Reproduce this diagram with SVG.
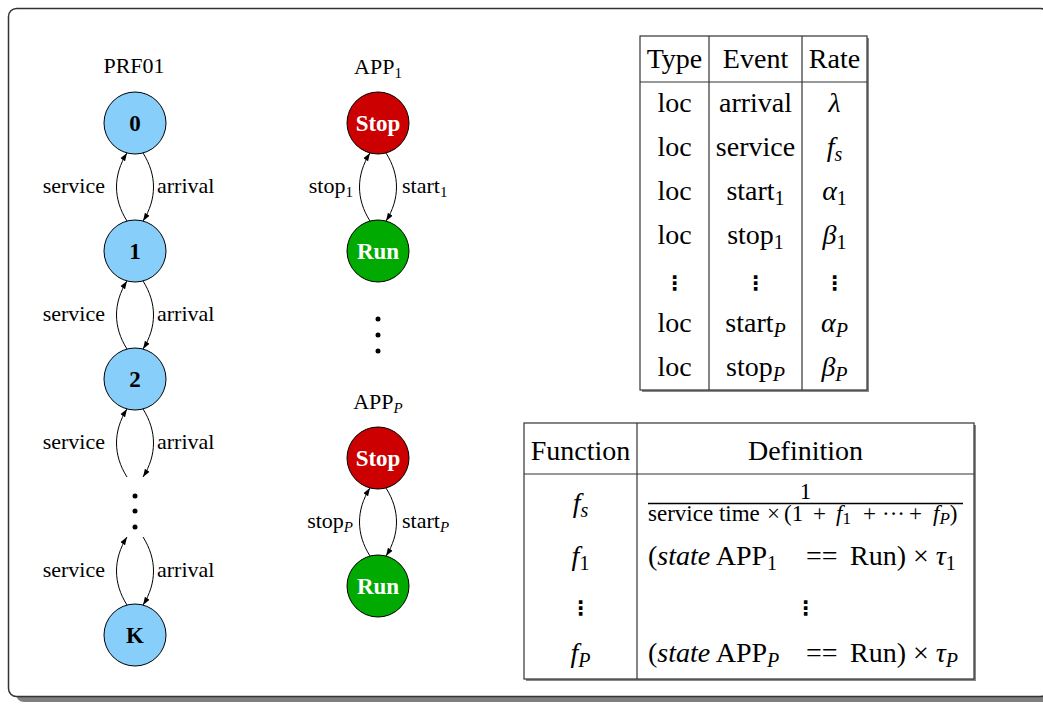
<svg xmlns="http://www.w3.org/2000/svg" width="1043" height="704" viewBox="0 0 1043 704">
<defs>
<marker id="arr" viewBox="0 0 10 10" refX="10" refY="5" markerWidth="8" markerHeight="8" orient="auto" markerUnits="userSpaceOnUse"><path d="M0,1.5 L10,5 L0,8.5 z" fill="#000"/></marker>
<style>
text{font-family:"Liberation Serif","Times New Roman",serif;fill:#000}
.lbl{font-size:22px}
.sl{font-size:15px}
.nl{font-size:23px;font-weight:bold;text-anchor:middle}
.w{fill:#fff}
.t{font-size:28px;text-anchor:middle}
.d{font-size:28px}
.i{font-style:italic}
.sub{font-size:20px}
.fr{font-size:23px}
.fs{font-size:17px}
.vd{font-family:"DejaVu Sans",sans-serif;font-size:20px;font-weight:bold;text-anchor:middle}
.prf{fill:#87cefa;stroke:#000;stroke-width:1}
.stop{fill:#cc0000;stroke:#000;stroke-width:1}
.run{fill:#00aa00;stroke:#000;stroke-width:1}
.e{fill:none;stroke:#000;stroke-width:1;marker-end:url(#arr)}
.tb{fill:#fff;stroke:#333;stroke-width:1.2}
.sh{fill:#888}
.ln{stroke:#333;stroke-width:1.2}
.dot{fill:#000}
</style>
</defs>

<g id="frame">
<rect x="16" y="14" width="1040" height="688" rx="8" fill="#7f7f7f"/>
<rect x="8.5" y="8.5" width="1040" height="688" rx="8" fill="#fff" stroke="#333" stroke-width="1.5"/>
</g>

<g id="connectors">
<path class="e" d="M143,153 C157,175 157,199 143,221"/>
<path class="e" d="M127,221 C113,199 113,175 127,153"/>
<path class="e" d="M143,281 C157,303 157,327 143,349"/>
<path class="e" d="M127,349 C113,327 113,303 127,281"/>
<path class="e" d="M143,409 C157,431 157,455 143,477"/>
<path class="e" d="M127,477 C113,455 113,431 127,409"/>
<path class="e" d="M143,537 C157,559 157,583 143,605"/>
<path class="e" d="M127,605 C113,583 113,559 127,537"/>
<path class="e" d="M386,153 C400,175 400,199 386,221"/>
<path class="e" d="M370,221 C356,199 356,175 370,153"/>
<path class="e" d="M386,488 C400,510 400,534 386,556"/>
<path class="e" d="M370,556 C356,534 356,510 370,488"/>
</g>

<g id="edge-labels" class="lbl">
<text x="105" y="193" text-anchor="end">service</text>
<text x="157" y="193">arrival</text>
<text x="105" y="321" text-anchor="end">service</text>
<text x="157" y="321">arrival</text>
<text x="105" y="449" text-anchor="end">service</text>
<text x="157" y="449">arrival</text>
<text x="105" y="577" text-anchor="end">service</text>
<text x="157" y="577">arrival</text>
<text x="353" y="193" text-anchor="end">stop<tspan class="sl" dy="4">1</tspan></text>
<text x="402" y="193">start<tspan class="sl" dy="4">1</tspan></text>
<text x="353" y="528" text-anchor="end">stop<tspan class="sl i" dy="4">P</tspan></text>
<text x="402" y="528">start<tspan class="sl i" dy="4">P</tspan></text>
</g>

<g id="titles" class="lbl">
<text x="134" y="73" text-anchor="middle">PRF01</text>
<text x="378" y="74" text-anchor="middle">APP<tspan class="sl" dy="4">1</tspan></text>
<text x="378" y="409" text-anchor="middle">APP<tspan class="sl i" dy="4">P</tspan></text>
</g>

<g id="prf-0"><circle class="prf" cx="135" cy="123" r="31"/><text class="nl" x="135" y="131">0</text></g>
<g id="prf-1"><circle class="prf" cx="135" cy="251" r="31"/><text class="nl" x="135" y="259">1</text></g>
<g id="prf-2"><circle class="prf" cx="135" cy="379" r="31"/><text class="nl" x="135" y="387">2</text></g>
<g id="prf-dots"><circle class="dot" cx="135" cy="496" r="2.5"/><circle class="dot" cx="135" cy="511" r="2.5"/><circle class="dot" cx="135" cy="527" r="2.5"/></g>
<g id="prf-K"><circle class="prf" cx="135" cy="635" r="31"/><text class="nl" x="135" y="643">K</text></g>

<g id="app1-stop"><circle class="stop" cx="378" cy="123" r="31"/><text class="nl w" x="378" y="131">Stop</text></g>
<g id="app1-run"><circle class="run" cx="378" cy="251" r="31"/><text class="nl w" x="378" y="259">Run</text></g>
<g id="app-dots"><circle class="dot" cx="378" cy="319" r="2.5"/><circle class="dot" cx="378" cy="335" r="2.5"/><circle class="dot" cx="378" cy="351" r="2.5"/></g>
<g id="appP-stop"><circle class="stop" cx="378" cy="458" r="31"/><text class="nl w" x="378" y="466">Stop</text></g>
<g id="appP-run"><circle class="run" cx="378" cy="586" r="31"/><text class="nl w" x="378" y="594">Run</text></g>

<g id="event-table">
<rect class="sh" x="642" y="38" width="227" height="354"/>
<rect class="tb" x="640" y="36" width="227" height="354"/>
<line class="ln" x1="709" y1="36" x2="709" y2="390"/>
<line class="ln" x1="802" y1="36" x2="802" y2="390"/>
<line class="ln" x1="640" y1="82" x2="867" y2="82"/>
<g class="t">
<text x="674.5" y="68">Type</text><text x="755.5" y="68">Event</text><text x="834.5" y="68">Rate</text>
<text x="674.5" y="112">loc</text><text x="755.5" y="112">arrival</text><text x="834.5" y="112" class="i">λ</text>
<text x="674.5" y="156">loc</text><text x="755.5" y="156">service</text><text x="834.5" y="156"><tspan class="i">f</tspan><tspan class="sub i" dy="5">s</tspan></text>
<text x="674.5" y="200">loc</text><text x="755.5" y="200">start<tspan class="sub" dy="5">1</tspan></text><text x="834.5" y="200"><tspan class="i">α</tspan><tspan class="sub" dy="5">1</tspan></text>
<text x="674.5" y="244">loc</text><text x="755.5" y="244">stop<tspan class="sub" dy="5">1</tspan></text><text x="834.5" y="244"><tspan class="i">β</tspan><tspan class="sub" dy="5">1</tspan></text>
<text x="674.5" y="332">loc</text><text x="755.5" y="332">start<tspan class="sub i" dy="5">P</tspan></text><text x="834.5" y="332"><tspan class="i">α</tspan><tspan class="sub i" dy="5">P</tspan></text>
<text x="674.5" y="376">loc</text><text x="755.5" y="376">stop<tspan class="sub i" dy="5">P</tspan></text><text x="834.5" y="376"><tspan class="i">β</tspan><tspan class="sub i" dy="5">P</tspan></text>
</g>
<text class="vd" x="674.5" y="290">⋮</text><text class="vd" x="755.5" y="290">⋮</text><text class="vd" x="834.5" y="290">⋮</text>
</g>

<g id="function-table">
<rect class="sh" x="526" y="425" width="450" height="256"/>
<rect class="tb" x="524" y="423" width="450" height="256"/>
<line class="ln" x1="637" y1="423" x2="637" y2="679"/>
<line class="ln" x1="524" y1="474" x2="974" y2="474"/>
<g class="t">
<text x="580.5" y="460">Function</text><text x="805.5" y="460">Definition</text>
<text x="580.5" y="512"><tspan class="i">f</tspan><tspan class="sub i" dy="5">s</tspan></text>
<text x="580.5" y="565"><tspan class="i">f</tspan><tspan class="sub" dy="5">1</tspan></text>
<text x="580.5" y="662"><tspan class="i">f</tspan><tspan class="sub i" dy="5">P</tspan></text>
</g>
<text class="fr" x="805.5" y="499" text-anchor="middle">1</text>
<line x1="648" y1="503.5" x2="963" y2="503.5" stroke="#000" stroke-width="1.5"/>
<g class="fr">
<text x="648" y="521">service time</text>
<text x="767" y="521">×</text>
<text x="784" y="521">(1</text>
<text x="813" y="521">+</text>
<text x="836" y="521"><tspan class="i">f</tspan><tspan class="fs" dy="3">1</tspan></text>
<text x="863" y="521">+</text>
<text x="882" y="521">···</text>
<text x="909" y="521">+</text>
<text x="933" y="521"><tspan class="i">f</tspan><tspan class="fs i" dy="3">P</tspan><tspan dy="-3">)</tspan></text>
</g>
<g class="d">
<text x="648" y="565">(<tspan class="i">state</tspan> APP<tspan class="sub" dy="5">1</tspan></text>
<text x="806" y="565">==</text>
<text x="850" y="565">Run) × <tspan class="i">τ</tspan><tspan class="sub" dy="5">1</tspan></text>
<text x="648" y="662">(<tspan class="i">state</tspan> APP<tspan class="sub i" dy="5">P</tspan></text>
<text x="806" y="662">==</text>
<text x="850" y="662">Run) × <tspan class="i">τ</tspan><tspan class="sub i" dy="5">P</tspan></text>
</g>
<text class="vd" x="580.5" y="615">⋮</text><text class="vd" x="805.5" y="615">⋮</text>
</g>
</svg>
